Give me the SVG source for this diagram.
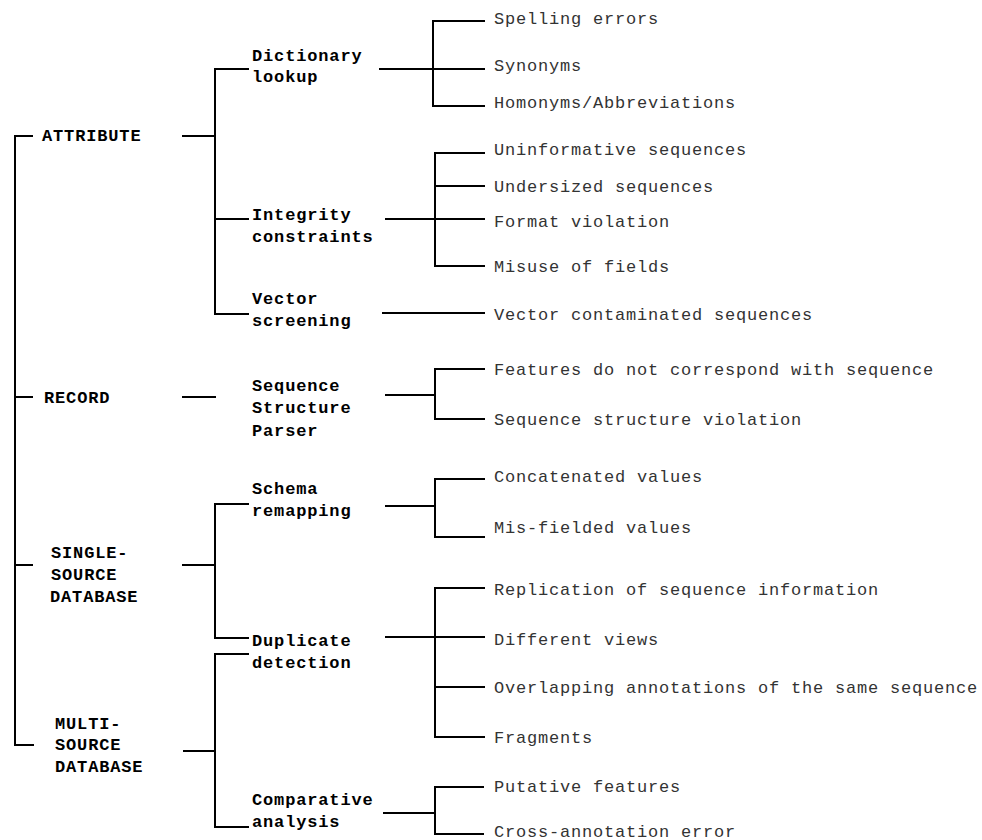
<svg xmlns="http://www.w3.org/2000/svg" width="982" height="840" viewBox="0 0 982 840">
<style>
.c{stroke:#000;stroke-width:2;fill:none;stroke-linecap:square}
.b{font-family:"Liberation Mono","Courier New",monospace;font-weight:bold;font-size:17px;letter-spacing:0.85px;fill:#000}
.l{font-family:"Liberation Mono","Courier New",monospace;font-size:17px;letter-spacing:0.8px;fill:#333}
</style>
<rect width="982" height="840" fill="#fff"/>
<g id="connectors" class="c">
<path d="M32,136H15V745H33M15,397H32M15,565H32"/>
<path d="M183,136H215M248,69H215V314H248M215,219H248"/>
<path d="M183,397H215"/>
<path d="M183,565H215M248,504H215V638H248"/>
<path d="M184,751H215M248,654H215V827H248"/>
<path d="M380,69H433M484,21H433V106H484M433,69H484"/>
<path d="M386,219H435M484,153H435V266H484M435,186H484M435,219H484"/>
<path d="M383,313H484"/>
<path d="M386,395H435M484,369H435V419H484"/>
<path d="M386,506H435M484,479H435V537H484"/>
<path d="M386,637H435M484,588H435V737H484M435,637H484M435,687H484"/>
<path d="M384,813H435M483,787H435V834H483"/>
</g>
<g id="attribute"><text class="b" x="42" y="141">ATTRIBUTE</text></g>
<g id="record"><text class="b" x="44" y="403">RECORD</text></g>
<g id="single-source"><text class="b" x="51" y="558">SINGLE-</text><text class="b" x="51" y="580">SOURCE</text><text class="b" x="50" y="602">DATABASE</text></g>
<g id="multi-source"><text class="b" x="55" y="729">MULTI-</text><text class="b" x="55" y="750">SOURCE</text><text class="b" x="55" y="772">DATABASE</text></g>
<g id="dictionary"><text class="b" x="252" y="61">Dictionary</text><text class="b" x="252" y="82">lookup</text></g>
<g id="integrity"><text class="b" x="252" y="220">Integrity</text><text class="b" x="252" y="242">constraints</text></g>
<g id="vector"><text class="b" x="252" y="304">Vector</text><text class="b" x="252" y="326">screening</text></g>
<g id="sequence-parser"><text class="b" x="252" y="391">Sequence</text><text class="b" x="252" y="413">Structure</text><text class="b" x="252" y="436">Parser</text></g>
<g id="schema"><text class="b" x="252" y="494">Schema</text><text class="b" x="252" y="516">remapping</text></g>
<g id="duplicate"><text class="b" x="252" y="646">Duplicate</text><text class="b" x="252" y="668">detection</text></g>
<g id="comparative"><text class="b" x="252" y="805">Comparative</text><text class="b" x="252" y="827">analysis</text></g>
<g id="leaf-spelling"><text class="l" x="494" y="24">Spelling errors</text></g>
<g id="leaf-synonyms"><text class="l" x="494" y="71">Synonyms</text></g>
<g id="leaf-homonyms"><text class="l" x="494" y="108">Homonyms/Abbreviations</text></g>
<g id="leaf-uninformative"><text class="l" x="494" y="155">Uninformative sequences</text></g>
<g id="leaf-undersized"><text class="l" x="494" y="192">Undersized sequences</text></g>
<g id="leaf-format"><text class="l" x="494" y="227">Format violation</text></g>
<g id="leaf-misuse"><text class="l" x="494" y="272">Misuse of fields</text></g>
<g id="leaf-vector"><text class="l" x="494" y="320">Vector contaminated sequences</text></g>
<g id="leaf-features"><text class="l" x="494" y="375">Features do not correspond with sequence</text></g>
<g id="leaf-structure"><text class="l" x="494" y="425">Sequence structure violation</text></g>
<g id="leaf-concatenated"><text class="l" x="494" y="482">Concatenated values</text></g>
<g id="leaf-misfielded"><text class="l" x="494" y="533">Mis-fielded values</text></g>
<g id="leaf-replication"><text class="l" x="494" y="595">Replication of sequence information</text></g>
<g id="leaf-views"><text class="l" x="494" y="645">Different views</text></g>
<g id="leaf-overlapping"><text class="l" x="494" y="693">Overlapping annotations of the same sequence</text></g>
<g id="leaf-fragments"><text class="l" x="494" y="743">Fragments</text></g>
<g id="leaf-putative"><text class="l" x="494" y="792">Putative features</text></g>
<g id="leaf-cross"><text class="l" x="494" y="837">Cross-annotation error</text></g>
</svg>
